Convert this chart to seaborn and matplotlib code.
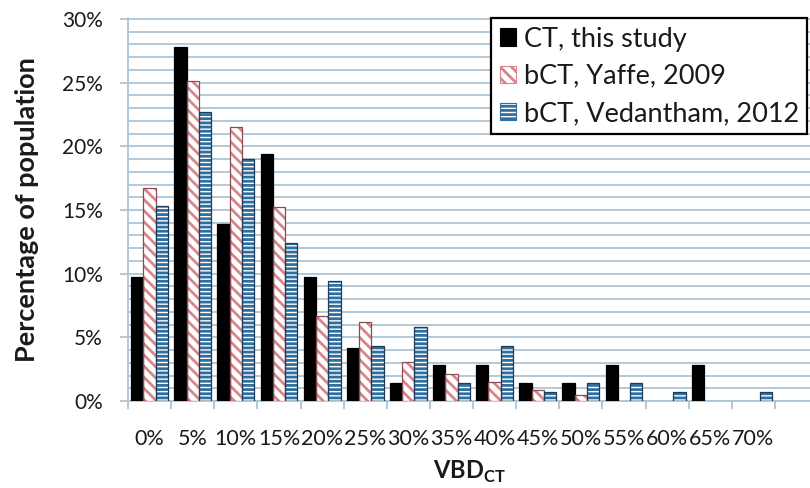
import numpy as np
import pandas as pd
import matplotlib
matplotlib.use("Agg")
import matplotlib.pyplot as plt
import seaborn as sns
from matplotlib.patches import Rectangle, Patch
from matplotlib.ticker import MultipleLocator, PercentFormatter, FixedLocator

# Distribution of volumetric breast density (VBD) bins, in percent of population
categories = ["0%", "5%", "10%", "15%", "20%", "25%", "30%", "35%",
              "40%", "45%", "50%", "55%", "60%", "65%", "70%"]
series_names = ["CT, this study", "bCT, Yaffe, 2009", "bCT, Vedantham, 2012"]
ct_this_study = [9.7, 27.8, 13.9, 19.4, 9.7, 4.2, 1.4, 2.8, 2.8, 1.4, 1.4, 2.8, 0.0, 2.8, 0.0]
bct_yaffe = [16.7, 25.1, 21.5, 15.2, 6.7, 6.2, 3.1, 2.1, 1.5, 0.9, 0.5, 0.0, 0.0, 0.0, 0.0]
bct_vedantham = [15.3, 22.7, 19.0, 12.4, 9.4, 4.3, 5.8, 1.4, 4.3, 0.7, 1.4, 1.4, 0.7, 0.0, 0.7]

df = pd.DataFrame({
    "bin": categories * 3,
    "pct": ct_this_study + bct_yaffe + bct_vedantham,
    "series": sum([[s] * len(categories) for s in series_names], []),
})

sns.set_theme(style="white")
plt.rcParams["font.family"] = ["Lato", "DejaVu Sans"]
plt.rcParams["hatch.linewidth"] = 2.0
plt.rcParams["mathtext.fontset"] = "custom"
plt.rcParams["mathtext.rm"] = "Lato"
plt.rcParams["mathtext.bf"] = "Lato:bold"

grid_color = "#adc5d5"
text_color = "#1a1a1a"
styles = [
    dict(face="black", hatch=None, hatch_color="black", edge="black"),
    dict(face="white", hatch="\\\\\\", hatch_color="#d8868b", edge="#8c4a52"),
    dict(face="white", hatch="----", hatch_color="#2f6f9f", edge="#1d3b5a"),
]

fig = plt.figure(figsize=(8.1, 4.88), dpi=100)
ymax = 30.1
ax = fig.add_axes([128 / 810, 1 - 401 / 488, 1 - 128 / 810, (382 * ymax / 30) / 488])

sns.barplot(data=df, x="bin", y="pct", hue="series", order=categories,
            hue_order=series_names, palette=["black", "white", "white"],
            width=0.855, gap=0, saturation=1, legend=False, ax=ax, zorder=3)

for container, st in zip(ax.containers, styles):
    for bar in container:
        bar.set_facecolor(st["face"])
        bar.set_edgecolor(st["hatch_color"])
        bar.set_linewidth(0)
        if st["hatch"]:
            bar.set_hatch(st["hatch"])
        if bar.get_height() > 0:
            ax.add_patch(Rectangle(bar.get_xy(), bar.get_width(), bar.get_height(),
                                   fill=False, edgecolor=st["edge"], lw=0.9, zorder=4))

ax.set_xlim(-0.5, -0.5 + 682 / 43.13)
ax.set_ylim(0, ymax)
ax.yaxis.set_major_locator(MultipleLocator(5))
ax.yaxis.set_minor_locator(MultipleLocator(1))
ax.yaxis.set_major_formatter(PercentFormatter(decimals=0))
ax.xaxis.set_minor_locator(FixedLocator(np.arange(-0.5, len(categories), 1.0)))
ax.grid(which="both", axis="y", color=grid_color, lw=1.3)
ax.grid(False, axis="x")
ax.set_axisbelow(True)

for side in ["top", "right"]:
    ax.spines[side].set_visible(False)
for side in ["left", "bottom"]:
    ax.spines[side].set_color(grid_color)
    ax.spines[side].set_linewidth(1.3)

ax.tick_params(axis="y", which="major", length=6, width=1.3, color=grid_color,
               labelsize=15, pad=12, labelcolor=text_color, left=True)
ax.tick_params(axis="y", which="minor", length=0)
ax.tick_params(axis="x", which="major", length=0, labelsize=15.5, pad=20,
               labelcolor=text_color)
ax.tick_params(axis="x", which="minor", length=6, width=1.3, color=grid_color,
               bottom=True)

ax.set_ylabel("Percentage of population", fontsize=19.5, fontweight="bold",
              color=text_color)
ax.yaxis.set_label_coords(-0.131, 0.5)
ax.set_xlabel(r"$\mathbf{VBD}_{\mathbf{CT}}$", fontsize=17, color=text_color)
ax.xaxis.set_label_coords(0.5, -0.15)

handles = []
for st in styles:
    handles.append(Patch(facecolor=st["face"], edgecolor=st["hatch_color"],
                         hatch=st["hatch"], lw=0.8))
leg = ax.legend(handles, series_names, loc="upper right",
                bbox_to_anchor=(0.996, 0.998), borderaxespad=0, fontsize=19.5,
                frameon=True, fancybox=False, framealpha=1, edgecolor="black",
                handlelength=0.6, handleheight=0.6, handletextpad=0.3,
                labelspacing=0.45, borderpad=0.3)
leg.get_frame().set_linewidth(1.6)
for t in leg.get_texts():
    t.set_color(text_color)

fig.savefig("out.png", dpi=100, facecolor="white")
